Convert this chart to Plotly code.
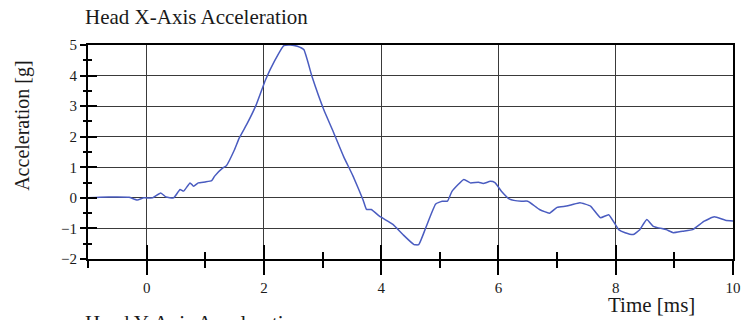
import plotly.graph_objects as go

# time [ms] and head x-axis acceleration [g]
time_ms = [-1.0, -0.8, -0.5, -0.3, -0.16, -0.05, 0.1, 0.24, 0.33, 0.46,
           0.57, 0.63, 0.74, 0.80, 0.88, 1.0, 1.11, 1.16, 1.30, 1.36,
           1.50, 1.58, 1.72, 1.87, 2.03, 2.18, 2.34, 2.45, 2.57, 2.68,
           2.82, 3.02, 3.19, 3.36, 3.52, 3.69, 3.75, 3.83, 3.97, 4.20,
           4.37, 4.56, 4.64, 4.76, 4.93, 5.04, 5.13, 5.21, 5.41, 5.52,
           5.66, 5.74, 5.86, 5.94, 6.05, 6.19, 6.39, 6.50, 6.70, 6.87,
           7.00, 7.16, 7.26, 7.39, 7.57, 7.74, 7.88, 8.05, 8.16, 8.30,
           8.41, 8.53, 8.64, 8.86, 8.98, 9.14, 9.31, 9.51, 9.68, 9.87, 10.0]
accel_g = [0.0, 0.02, 0.03, 0.02, -0.07, 0.0, 0.0, 0.16, 0.03, 0.0,
           0.27, 0.22, 0.49, 0.38, 0.49, 0.52, 0.56, 0.71, 0.98, 1.05,
           1.58, 1.96, 2.45, 3.05, 3.87, 4.47, 4.98, 5.0, 4.96, 4.85,
           3.97, 2.89, 2.13, 1.35, 0.71, -0.06, -0.38, -0.38, -0.60, -0.87,
           -1.2, -1.53, -1.53, -0.98, -0.2, -0.11, -0.11, 0.22, 0.6, 0.49,
           0.51, 0.47, 0.54, 0.5, 0.22, -0.04, -0.11, -0.11, -0.38, -0.5,
           -0.31, -0.27, -0.22, -0.16, -0.27, -0.65, -0.55, -1.04, -1.14, -1.2,
           -1.04, -0.71, -0.93, -1.04, -1.14, -1.09, -1.04, -0.76, -0.62, -0.73, -0.76]

x_ticks = [0, 2, 4, 6, 8, 10]
y_ticks = [-2, -1, 0, 1, 2, 3, 4, 5]

serif = "Liberation Serif, Times New Roman, serif"
ink = "#1a1a1a"

W, H = 750, 320

fig = go.Figure()
fig.add_trace(go.Scatter(x=time_ms, y=accel_g, mode="lines",
                         line=dict(color="#4a5cc0", width=1.5, shape="spline", smoothing=0.4),
                         showlegend=False, hoverinfo="skip"))
# empty trace so the overlay axes (inner half of the crossing ticks) get drawn
fig.add_trace(go.Scatter(x=[None], y=[None], xaxis="x2", yaxis="y2", showlegend=False))

fig.update_layout(
    width=W, height=H,
    margin=dict(l=88, r=9, t=45, b=61),
    paper_bgcolor="white", plot_bgcolor="white",
    font=dict(family=serif, color=ink),
    title=dict(text="Head X-Axis Acceleration", font=dict(size=21, family=serif, color=ink),
               xref="container", x=85 / W, xanchor="left",
               yref="container", y=1 - 17 / H, yanchor="middle"),
    xaxis=dict(range=[-1, 10], tickvals=x_ticks, showgrid=True, gridcolor="#3a3a3a", gridwidth=1.2,
               zeroline=False, showline=True, linecolor="black", linewidth=2, mirror=True,
               ticks="outside", ticklen=14, tickwidth=2, tickcolor="black",
               minor=dict(dtick=1, tick0=-1, ticks="outside", ticklen=7, tickwidth=2,
                          tickcolor="black", showgrid=False),
               tickfont=dict(size=15, family=serif, color=ink)),
    xaxis2=dict(range=[-1, 10], overlaying="x", anchor="y", side="bottom",
                tickvals=x_ticks, showticklabels=False, showgrid=False, zeroline=False,
                ticks="inside", ticklen=14, tickwidth=2, tickcolor="black",
                minor=dict(dtick=1, tick0=-1, ticks="inside", ticklen=7, tickwidth=2,
                           tickcolor="black", showgrid=False)),
    yaxis=dict(range=[-2, 5], tickvals=y_ticks, showgrid=True, gridcolor="#3a3a3a", gridwidth=1.2,
               zeroline=False, showline=True, linecolor="black", linewidth=2, mirror=True,
               ticks="outside", ticklen=6, tickwidth=2, tickcolor="black",
               minor=dict(dtick=0.5, tick0=-2, ticks="outside", ticklen=3, tickwidth=2,
                          tickcolor="black", showgrid=False),
               tickfont=dict(size=15, family=serif, color=ink)),
    yaxis2=dict(range=[-2, 5], overlaying="y", anchor="x", side="left",
                tickvals=y_ticks, showticklabels=False, showgrid=False, zeroline=False,
                ticks="inside", ticklen=9, tickwidth=2, tickcolor="black",
                minor=dict(dtick=0.5, tick0=-2, ticks="inside", ticklen=4, tickwidth=2,
                           tickcolor="black", showgrid=False)),
)

fig.add_annotation(text="Acceleration [g]", textangle=-90, showarrow=False,
                   xref="paper", yref="paper", x=(21 - 88) / 653, y=(259 - 126) / 214,
                   xanchor="center", yanchor="middle",
                   font=dict(size=20, family=serif, color=ink))
fig.add_annotation(text="Time [ms]", showarrow=False,
                   xref="paper", yref="paper", x=(658 - 88) / 653, y=(259 - 305) / 214,
                   xanchor="center", yanchor="middle",
                   font=dict(size=21, family=serif, color=ink))
# next panel's title, cut off by the bottom edge in the reference
fig.add_annotation(text="Head Y-Axis Acceleration", showarrow=False,
                   xref="paper", yref="paper", x=(83 - 88) / 653, y=(259 - 309) / 214,
                   xanchor="left", yanchor="top",
                   font=dict(size=21, family=serif, color=ink))

# drop the default 8px body margin so the 750x320 figure fills the window exactly
fig.write_html("out.html", config={"displayModeBar": False},
               post_script="document.body.style.margin='0';")
